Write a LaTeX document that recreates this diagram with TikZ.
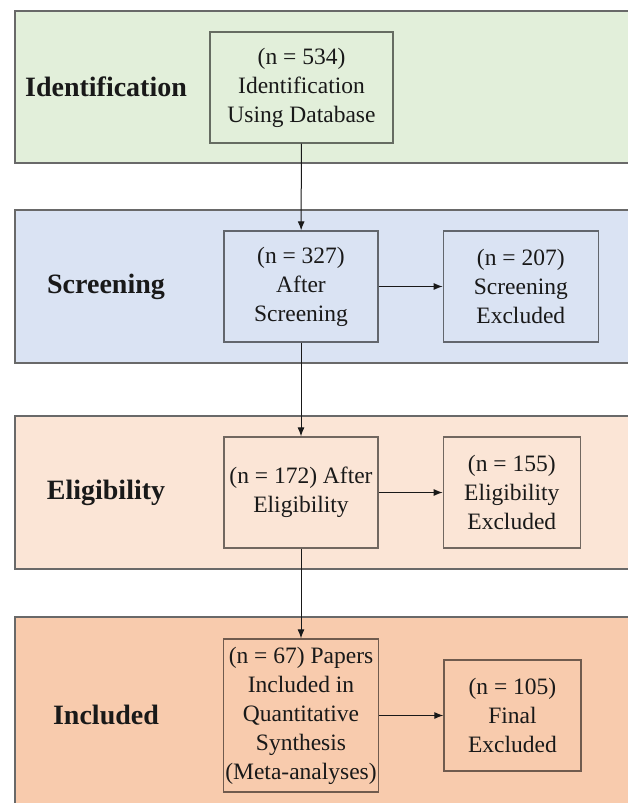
\documentclass[tikz,border=0pt]{standalone}
\usepackage{fontspec}
\setmainfont{Liberation Serif}
\usetikzlibrary{positioning,arrows.meta}
\definecolor{IdGreen}{RGB}{226,239,218}
\definecolor{ScBlue}{RGB}{218,227,243}
\definecolor{ElPeach}{RGB}{251,229,214}
\definecolor{InOrange}{RGB}{248,203,173}
\definecolor{Edge}{RGB}{105,105,105}
\definecolor{Ink}{RGB}{25,25,25}

\begin{document}
\begin{tikzpicture}[x=1pt,y=-1pt,node distance=64pt,
 band/.style={draw=Edge,line width=1.2pt},
 b/.style={draw=#1!45!black,fill=#1,line width=1.3pt,minimum height=111pt,align=center,inner sep=2pt,text=Ink,font=\fontsize{23.5}{29}\selectfont},
 lbl/.style={text=Ink,font=\fontsize{28}{33}\selectfont\bfseries},
 a/.style={-{Latex[length=9pt,width=7pt]},line width=1pt,Ink}]
\useasboundingbox (0,0) rectangle (628,803);
\begin{scope}
\clip (0,0) rectangle (628,803);
\filldraw[band,fill=IdGreen] (15,11) rectangle (640,163);
\filldraw[band,fill=ScBlue] (15,210) rectangle (640,363);
\filldraw[band,fill=ElPeach] (15,416) rectangle (640,569);
\filldraw[band,fill=InOrange] (15,617) rectangle (640,815);
\end{scope}
% stage names
\node[lbl] (lid) at (106,87) {Identification};
\node[lbl] (lsc) at (106,287) {Screening};
\node[lbl] (lel) at (106,493) {Eligibility};
\node[lbl] (lin) at (106,715) {Included};
% boxes
\node[b=IdGreen,minimum width=183pt] (id) at (301.5,87.5) {(n = 534)\\Identification\\Using Database};
\node[b=ScBlue,minimum width=154pt] (sc) at (301,286.5) {(n = 327)\\After\\Screening};
\node[b=ScBlue,minimum width=155pt,right=of sc] (scx) {(n = 207)\\Screening\\Excluded};
\node[b=ElPeach,minimum width=154pt] (el) at (301,492.5) {(n = 172) After\\Eligibility};
\node[b=ElPeach,minimum width=137pt,right=of el] (elx) {(n = 155)\\Eligibility\\Excluded};
\node[b=InOrange,minimum width=154pt,minimum height=153pt] (in) at (301,715.5) {(n = 67) Papers\\Included in\\Quantitative\\Synthesis\\(Meta-analyses)};
\node[b=InOrange,minimum width=137pt,right=of in] (inx) {(n = 105)\\Final\\Excluded};
\draw[a] (id)--(sc);\draw[a] (sc)--(el);\draw[a] (el)--(in);
\draw[a] (sc)--(scx);\draw[a] (el)--(elx);\draw[a] (in)--(inx);
\end{tikzpicture}
\end{document}
